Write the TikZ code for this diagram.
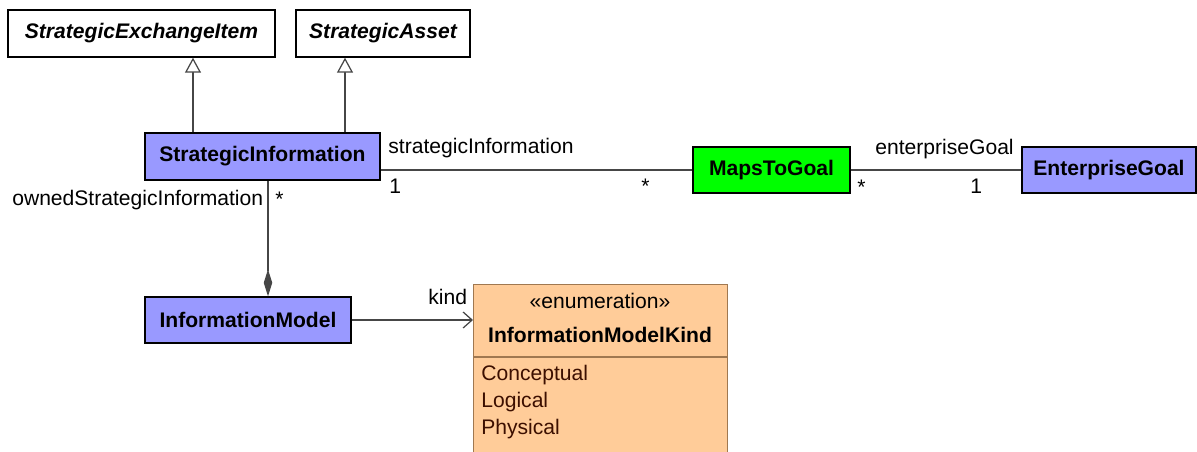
\documentclass[tikz,border=0pt]{standalone}
\usepackage{fontspec}
\setmainfont{Liberation Sans}
\usetikzlibrary{arrows.meta}
\definecolor{classblue}{RGB}{153,153,255}
\definecolor{goalgreen}{RGB}{0,255,0}
\definecolor{enumorange}{RGB}{255,204,153}
\definecolor{enumedge}{RGB}{160,120,80}
\definecolor{linegray}{RGB}{70,70,70}
\definecolor{literalbrown}{RGB}{60,15,0}

\begin{document}
\begin{tikzpicture}[font=\fontsize{12}{14}\selectfont]
      \tikzstyle{every node}=[inner sep=0pt]
      \tikzstyle{cls}=[draw=black,line width=0.8pt,minimum height=0.94cm,font=\fontsize{12}{14}\selectfont\bfseries]
      \tikzstyle{abstractcls}=[cls,fill=white,font=\fontsize{12}{14}\selectfont\bfseries\itshape]
      \tikzstyle{enumbox}=[draw=enumedge,line width=0.8pt,fill=enumorange]
      \tikzstyle{literal}=[anchor=base west,text=literalbrown]
      \tikzstyle{lbl}=[anchor=base west]
      \tikzstyle{gen}=[draw=linegray,line width=0.7pt,-{Triangle[open,fill=white,length=0.3cm,width=0.32cm]}]
      \tikzstyle{assoc}=[draw=linegray,line width=0.7pt]
      \tikzstyle{nav}=[assoc,-{Straight Barb[length=0.18cm,width=0.32cm]}]
      \tikzstyle{comp}=[assoc,-{Diamond[length=0.54cm,width=0.17cm,fill=linegray]}]

      \useasboundingbox (0,0) rectangle (23.94,-9.04);

      \node[abstractcls,minimum width=5.34cm] (sei) at (2.83,-0.67) {StrategicExchangeItem};
      \node[abstractcls,minimum width=3.48cm] (sa) at (7.66,-0.67) {StrategicAsset};

      \node[cls,fill=classblue,minimum width=4.7cm] (si) at (5.25,-3.13) {StrategicInformation};
      \node[cls,fill=goalgreen,minimum width=3.14cm,minimum height=0.92cm] (mtg) at (15.43,-3.4) {MapsToGoal};
      \node[cls,fill=classblue,minimum width=3.48cm,minimum height=0.92cm] (eg) at (22.18,-3.4) {EnterpriseGoal};
      \node[cls,fill=classblue,minimum width=4.12cm,minimum height=0.92cm] (im) at (4.96,-6.4) {InformationModel};

      \node[enumbox,anchor=north west,minimum width=5.08cm,minimum height=3.6cm] (imk) at (9.46,-5.68) {};
      \node[anchor=base] (stereo) at (12,-6.16) {«enumeration»};
      \node[anchor=base,font=\fontsize{12}{14}\selectfont\bfseries] (imkname) at (12,-6.84) {InformationModelKind};
      \draw[draw=enumedge,line width=0.8pt] ([yshift=-1.46cm]imk.north west) -- ([yshift=-1.46cm]imk.north east);
      \node[literal] (conceptual) at (9.62,-7.6) {Conceptual};
      \node[literal] (logical) at (9.62,-8.14) {Logical};
      \node[literal] (physical) at (9.62,-8.69) {Physical};

      \draw[gen] ([xshift=-1.39cm]si.north) -- ([xshift=-1.39cm]si.north |- sei.south);
      \draw[gen] ([xshift=1.65cm]si.north) -- ([xshift=1.65cm]si.north |- sa.south);

      \draw[assoc] (si.east |- mtg.west) -- (mtg.west);
      \draw[assoc] (mtg.east) -- (eg.west);
      \draw[comp] ([xshift=0.11cm]si.south) -- ([xshift=0.11cm]si.south |- im.north);
      \draw[nav] (im.east) -- (im.east -| imk.west);

      \node[lbl] (siname) at (7.76,-3.08) {strategicInformation};
      \node[lbl] (simult) at (7.78,-3.86) {1};
      \node[lbl] (mtgmultl) at (12.82,-3.86) {*};
      \node[lbl] (egname) at (17.5,-3.1) {enterpriseGoal};
      \node[lbl] (mtgmultr) at (17.14,-3.88) {*};
      \node[lbl] (egmult) at (19.4,-3.86) {1};
      \node[anchor=base east] (ownedname) at (5.27,-4.1) {ownedStrategicInformation};
      \node[lbl] (ownedmult) at (5.5,-4.12) {*};
      \node[lbl] (kindname) at (8.56,-6.08) {kind};

    \end{tikzpicture}
\end{document}
